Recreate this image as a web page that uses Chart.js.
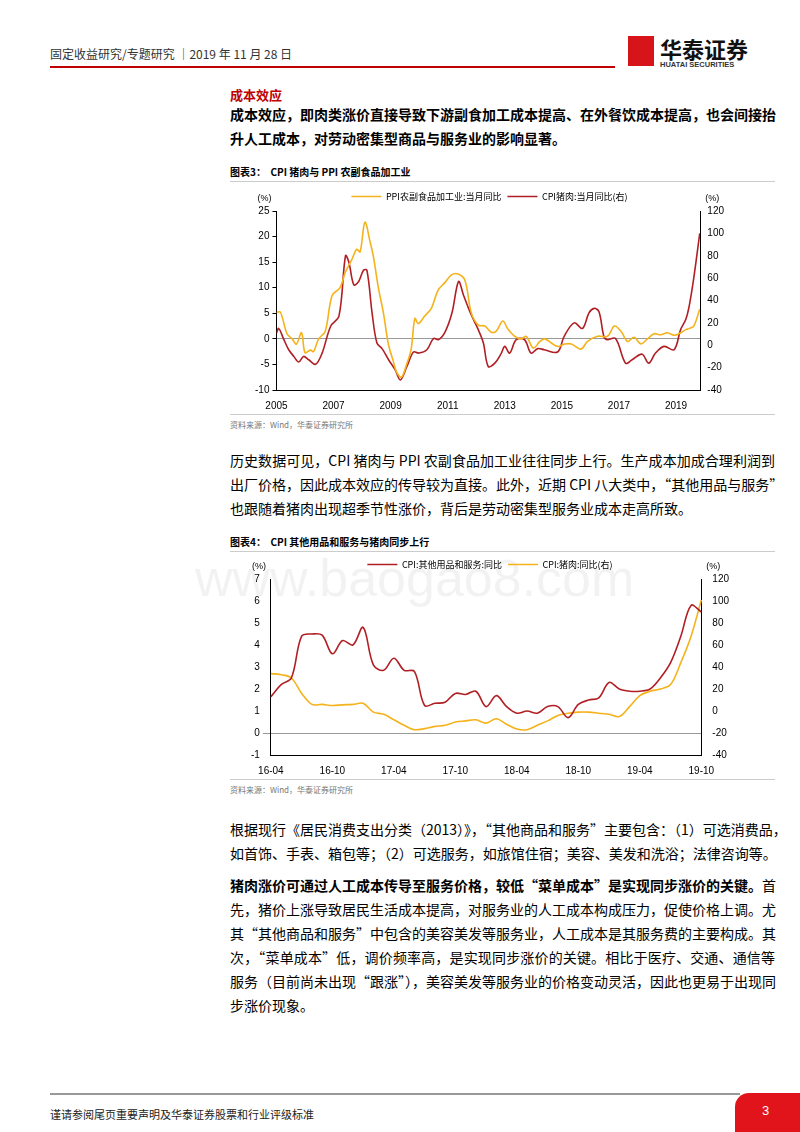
<!DOCTYPE html>
<html><head><meta charset="utf-8">
<script src="https://cdn.jsdelivr.net/npm/chart.js@4.4.0/dist/chart.umd.min.js"></script>
<style>
body{margin:0;width:800px;height:1132px;position:relative;background:#fff;font-family:"Noto Sans CJK SC",sans-serif;color:#000;overflow:hidden}
.a{position:absolute;white-space:nowrap}
.ln{position:absolute;left:230px;width:545px;font-size:14px;text-align:justify;text-align-last:justify;white-space:nowrap}
.ln.l{text-align-last:left}
.b{font-weight:bold}
.cap{position:absolute;left:230px;font-size:10px;font-weight:bold}
.src{position:absolute;left:230px;font-size:8px;color:#777}
.hr{position:absolute;left:230px;width:545px;height:1px;background:#ccc}
</style></head><body>
<div class="a" style="left:50px;top:45px;font-size:12px;color:#333">固定收益研究/专题研究 ｜2019 年 11 月 28 日</div>
<div style="position:absolute;left:50px;top:66px;width:565px;height:2px;background:#c00000"></div>
<div style="position:absolute;left:628px;top:36px;width:26px;height:30px;background:#d7141a"></div>
<div class="a" style="left:660px;top:32px;font-size:22px;font-weight:bold;color:#111">华泰证券</div>
<div class="a" style="left:660px;top:60px;font-size:7.5px;font-weight:bold;color:#333;font-family:Arial,'Liberation Sans'">HUATAI SECURITIES</div>

<div class="a" style="left:230px;top:85px;font-size:13px;color:#c00000;font-weight:bold">成本效应</div>
<div class="ln b" style="top:104px">成本效应，即肉类涨价直接导致下游副食加工成本提高、在外餐饮成本提高，也会间接抬</div>
<div class="ln b l" style="top:128px">升人工成本，对劳动密集型商品与服务业的影响显著。</div>

<div class="cap" style="top:164px">图表3：&nbsp; CPI 猪肉与 PPI 农副食品加工业</div>
<div class="hr" style="top:181px"></div>
<div style="position:absolute;left:222px;top:186px;width:505px;height:228px"><canvas id="c1"></canvas></div>
<div class="hr" style="top:414px"></div>
<div class="src" style="top:419px">资料来源：Wind，华泰证券研究所</div>

<div class="ln" style="top:450px">历史数据可见，CPI 猪肉与 PPI 农副食品加工业往往同步上行。生产成本加成合理利润到</div>
<div class="ln" style="top:474px">出厂价格，因此成本效应的传导较为直接。此外，近期 CPI 八大类中，“其他用品与服务”</div>
<div class="ln l" style="top:498px">也跟随着猪肉出现超季节性涨价，背后是劳动密集型服务业成本走高所致。</div>

<div class="cap" style="top:534px">图表4：&nbsp; CPI 其他用品和服务与猪肉同步上行</div>
<div class="hr" style="top:551px"></div>
<div class="a" style="left:195px;top:548px;font-size:52px;color:rgba(0,0,0,0.05);font-family:Arial">www.baogao8.com</div>
<div style="position:absolute;left:222px;top:554px;width:510px;height:225px"><canvas id="c2"></canvas></div>
<div class="hr" style="top:779px"></div>
<div class="src" style="top:784px">资料来源：Wind，华泰证券研究所</div>

<div class="ln" style="top:819px">根据现行《居民消费支出分类（2013）》，“其他商品和服务”主要包含：（1）可选消费品，</div>
<div class="ln l" style="top:843px">如首饰、手表、箱包等；（2）可选服务，如旅馆住宿；美容、美发和洗浴；法律咨询等。</div>

<div class="ln b" style="top:875px">猪肉涨价可通过人工成本传导至服务价格，较低“菜单成本”是实现同步涨价的关键。<span style="font-weight:normal">首</span></div>
<div class="ln" style="top:899px">先，猪价上涨导致居民生活成本提高，对服务业的人工成本构成压力，促使价格上调。尤</div>
<div class="ln" style="top:923px">其“其他商品和服务”中包含的美容美发等服务业，人工成本是其服务费的主要构成。其</div>
<div class="ln" style="top:947px">次，“菜单成本”低，调价频率高，是实现同步涨价的关键。相比于医疗、交通、通信等</div>
<div class="ln" style="top:971px">服务（目前尚未出现“跟涨”），美容美发等服务业的价格变动灵活，因此也更易于出现同</div>
<div class="ln l" style="top:995px">步涨价现象。</div>

<div style="position:absolute;left:50px;top:1093px;width:690px;height:2px;background:#999"></div>
<div class="a" style="left:50px;top:1106px;font-size:11px;color:#222">谨请参阅尾页重要声明及华泰证券股票和行业评级标准</div>
<div style="position:absolute;left:735px;top:1093px;width:65px;height:39px;background:#e0141a;border-top-left-radius:14px"></div>
<div class="a" style="left:762px;top:1103px;font-size:13px;color:#fff;font-family:Arial">3</div>

<script>
// Chart 1: PPI 农副食品加工业 (left), CPI 猪肉 (right), x in decimal years
const ppiX=[2005.0,2005.14,2005.37,2005.55,2005.7,2005.88,2006.0,2006.19,2006.3,2006.48,2006.71,2006.95,2007.23,2007.41,2007.64,2007.81,2007.93,2008.1,2008.28,2008.4,2008.57,2008.75,2008.92,2009.1,2009.21,2009.38,2009.56,2009.72,2009.85,2009.97,2010.2,2010.43,2010.66,2010.9,2011.13,2011.36,2011.6,2011.83,2012.07,2012.3,2012.53,2012.7,2012.93,2013.1,2013.35,2013.58,2013.75,2014.0,2014.23,2014.4,2014.63,2014.86,2015.1,2015.33,2015.67,2015.9,2016.25,2016.6,2016.84,2017.07,2017.3,2017.53,2017.77,2018.0,2018.23,2018.46,2018.7,2018.93,2019.17,2019.34,2019.46,2019.62,2019.83];
const ppiY=[5.2,5.2,1.0,0.0,-1.0,1.2,-2.7,-2.2,-2.5,0.0,1.5,8.5,10.0,13.0,15.5,17.5,17.0,22.8,19.0,16.0,10.0,5.0,-1.0,-4.5,-6.5,-7.5,-5.0,-2.0,4.0,3.0,4.5,6.0,9.5,11.0,12.5,12.7,11.5,5.0,2.7,2.5,1.3,1.5,3.5,2.0,0.5,0.0,0.5,-1.8,-0.5,0.0,-0.8,-1.5,-1.0,-1.0,-2.0,-0.5,0.5,0.5,2.5,1.5,-0.5,0.3,-1.0,0.0,1.0,0.8,1.2,0.7,1.2,1.8,2.0,2.5,5.8];
const porkX=[2005.0,2005.08,2005.26,2005.43,2005.61,2005.78,2005.95,2006.13,2006.37,2006.6,2006.9,2007.19,2007.42,2007.54,2007.71,2007.88,2008.05,2008.17,2008.35,2008.52,2008.7,2008.93,2009.16,2009.34,2009.57,2009.8,2009.98,2010.27,2010.5,2010.68,2010.91,2011.15,2011.38,2011.55,2011.73,2011.9,2012.07,2012.25,2012.42,2012.65,2012.88,2013.0,2013.17,2013.4,2013.69,2013.92,2014.15,2014.38,2014.85,2015.08,2015.43,2015.72,2015.95,2016.13,2016.3,2016.47,2016.58,2016.88,2017.23,2017.46,2017.81,2018.04,2018.28,2018.58,2018.93,2019.16,2019.34,2019.46,2019.62,2019.83];
const porkY=[11,15,5,-4,-10,-15,-10,-13,-17,-7,17,26,80,74,54,57,67,67,29,2,-3,-13,-22,-31,-19,-6,-7,-4,6,5,12,29,57,45,33,23,14,2,-19,-16,-7,-1,-7,5,5,-7,-3,-4,-6,8,20,15,29,33,30,8,5,6,-16,-13,-8,-16,-7,-1,-4,14,23,35,60,100];
const yearTicks=[2005,2007,2009,2011,2013,2015,2017,2019];
// Chart 2
const months=['16-04','16-05','16-06','16-07','16-08','16-09','16-10','16-11','16-12','17-01','17-02','17-03','17-04','17-05','17-06','17-07','17-08','17-09','17-10','17-11','17-12','18-01','18-02','18-03','18-04','18-05','18-06','18-07','18-08','18-09','18-10','18-11','18-12','19-01','19-02','19-03','19-04','19-05','19-06','19-07','19-08','19-09','19-10'];
const otherSvc=[1.65,2.2,2.5,4.4,4.5,4.45,3.6,4.2,4.0,4.8,3.1,2.85,3.4,2.85,2.8,1.25,1.35,1.4,1.8,1.75,1.9,1.2,1.7,1.2,0.9,1.0,0.9,1.2,1.2,0.7,1.3,1.5,1.6,2.3,2.0,1.9,1.9,2.0,2.5,3.2,4.4,5.8,5.5];
const pork2=[34,33,30,16,6,6,5,5.6,6,7,-1,-3,-8,-13,-17,-16,-14,-13,-10,-9,-8,-11,-7,-12,-16.4,-17,-13,-9,-4,-2,-1,-1,-2,-3,-5,4,14,18,20,24,44,68,101];

const RED='#b01f24',YEL='#f5b21b';
Chart.defaults.font.family='"Liberation Sans",Arial,sans-serif';
Chart.defaults.color='#000';
const legendOpts={display:true,position:'top',labels:{boxWidth:30,boxHeight:0,font:{size:9,family:'"Noto Sans CJK SC"'},padding:6,usePointStyle:false}};
function titlePlug(id){return {id:id,afterDraw(c){const x=c.ctx;x.save();x.font='9px "Liberation Sans",Arial';x.fillStyle='#000';
 x.textAlign='center';x.fillText('(%)',c.scales.y.left+c.scales.y.width-12,c.scales.y.top-12);
 x.fillText('(%)',c.scales.y2.left+12,c.scales.y2.top-12);x.restore();}};}
function lineDs(label,data,color,axis){return {label,data,borderColor:color,backgroundColor:color,borderWidth:1.6,pointRadius:0,tension:0.35,yAxisID:axis};}
const gridZero=(c)=>c.tick&&c.tick.value===0?'#999':'transparent';

new Chart(document.getElementById('c1'),{type:'line',
 data:{datasets:[
  lineDs('PPI农副食品加工业:当月同比',ppiX.map((x,i)=>({x,y:ppiY[i]})),YEL,'y'),
  lineDs('CPI猪肉:当月同比(右)',porkX.map((x,i)=>({x,y:porkY[i]})),RED,'y2')]},
 options:{animation:false,responsive:true,maintainAspectRatio:false,layout:{padding:{top:0,right:0,left:30,bottom:0}},
  plugins:{legend:legendOpts,tooltip:{enabled:false}},
  scales:{
   x:{type:'linear',min:2005,max:2019.85,afterBuildTicks:a=>{a.ticks=yearTicks.map(v=>({value:v}));},
      ticks:{callback:v=>String(v),font:{size:10},maxRotation:0,autoSkip:false,padding:2},grid:{display:false},border:{color:'#000'}},
   y:{min:-10,max:25,ticks:{stepSize:5,font:{size:10}},grid:{color:gridZero,drawTicks:true,tickColor:'#000',tickLength:4},border:{color:'#000'}},
   y2:{position:'right',min:-40,max:120,ticks:{stepSize:20,font:{size:10}},grid:{display:false,tickLength:4},border:{color:'#000'}}}},
 plugins:[titlePlug('t1')]});

new Chart(document.getElementById('c2'),{type:'line',
 data:{labels:months,datasets:[
  lineDs('CPI:其他用品和服务:同比',otherSvc,RED,'y'),
  lineDs('CPI:猪肉:同比(右)',pork2,YEL,'y2')]},
 options:{animation:false,responsive:true,maintainAspectRatio:false,layout:{padding:{top:0,right:0,left:26}},
  plugins:{legend:legendOpts,tooltip:{enabled:false}},
  scales:{
   x:{offset:false,ticks:{font:{size:10},maxRotation:0,autoSkip:false,callback:(v,i)=>i%6===0?months[i]:'',padding:2},grid:{display:false},border:{color:'#000'}},
   y:{min:-1,max:7,ticks:{stepSize:1,font:{size:10}},grid:{color:gridZero},border:{color:'#000'}},
   y2:{position:'right',min:-40,max:120,ticks:{stepSize:20,font:{size:10}},grid:{display:false},border:{color:'#000'}}}},
 plugins:[titlePlug('t2')]});
</script>
</body></html>
